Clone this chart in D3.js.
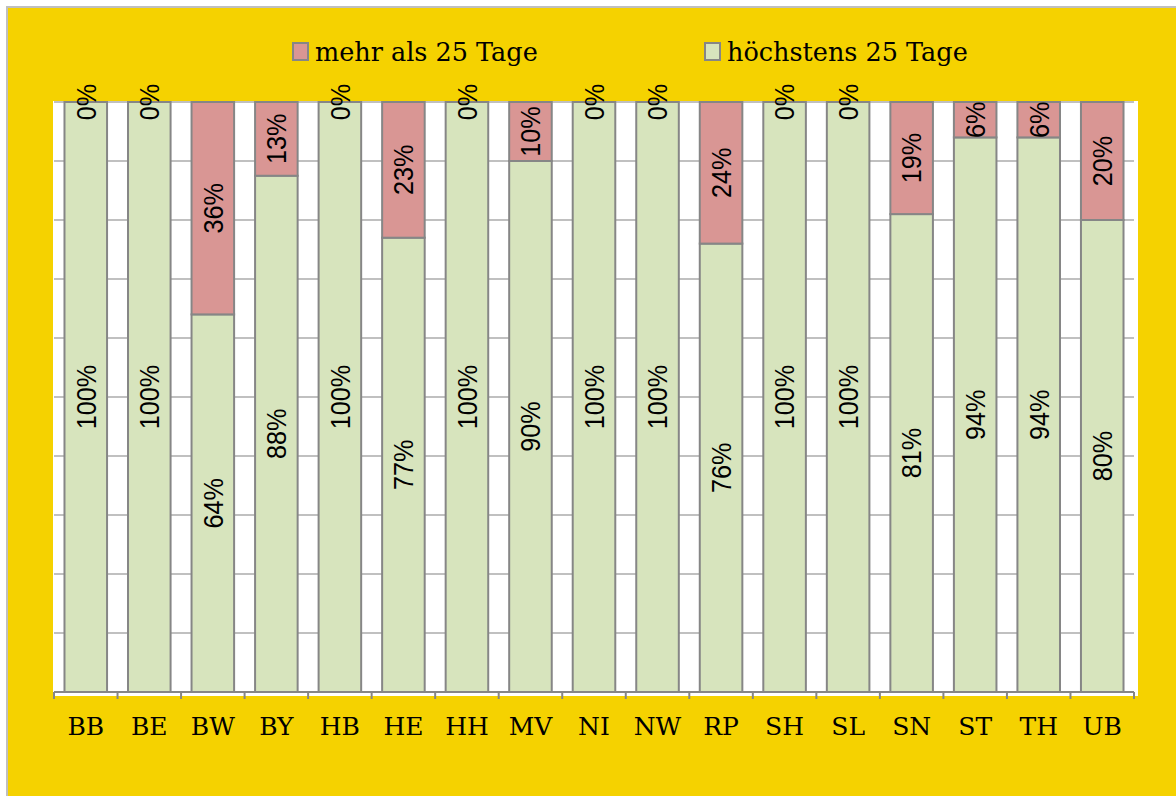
<!DOCTYPE html>
<html>
<head>
<meta charset="utf-8">
<script src="https://cdn.jsdelivr.net/npm/d3@7"></script>
<style>
  html, body { margin: 0; padding: 0; background: #ffffff; }
  svg { display: block; }
</style>
</head>
<body>
<svg id="chart" width="1176" height="796"></svg>
<script>
// ---- data ----
const categories = ["BB","BE","BW","BY","HB","HE","HH","MV","NI","NW","RP","SH","SL","SN","ST","TH","UB"];
const seriesNames = ["höchstens 25 Tage", "mehr als 25 Tage"];
const hoechstens = [100,100,64,87.5,100,77,100,90,100,100,76,100,100,81,94,94,80];
const mehr       = [0,0,36,12.5,0,23,0,10,0,0,24,0,0,19,6,6,20];
const yTicks = [0,10,20,30,40,50,60,70,80,90,100];

// ---- styles ----
const colGreen = "#D7E4BD", colPink = "#D99694";
const bg = "#F5D200";
const edge = "#868686";

const svg = d3.select("#chart");
const W = 1176, H = 796;

// background panel with border
svg.append("rect").attr("x", 7).attr("y", 7).attr("width", W + 10).attr("height", H + 10)
  .attr("fill", bg).attr("stroke", "#BFBFBF").attr("stroke-width", 2);

const plot = { left: 54, right: 1134, top: 102, bottom: 692 };
svg.append("rect").attr("x", 53).attr("y", 101).attr("width", 1138 - 53).attr("height", 696 - 101)
  .attr("fill", "#ffffff");

const x = d3.scaleBand().domain(categories).range([plot.left, plot.right])
  .paddingInner(0.33).paddingOuter(0.165);
const y = d3.scaleLinear().domain([0, 100]).range([plot.bottom, plot.top]);

// gridlines
svg.append("g").selectAll("line").data(yTicks.filter(d => d > 0)).join("line")
  .attr("x1", plot.left).attr("x2", plot.right)
  .attr("y1", d => y(d)).attr("y2", d => y(d))
  .attr("stroke", "#C0C0C0").attr("stroke-width", 2);

// stacked data
const rows = categories.map((c, i) => ({ cat: c, g: hoechstens[i], p: mehr[i] }));

const bars = svg.append("g");
bars.selectAll("rect.g").data(rows).join("rect").attr("class", "g")
  .attr("x", d => x(d.cat)).attr("width", x.bandwidth())
  .attr("y", d => y(d.g)).attr("height", d => y(0) - y(d.g))
  .attr("fill", colGreen).attr("stroke", edge).attr("stroke-width", 2);
bars.selectAll("rect.p").data(rows.filter(d => d.p > 0)).join("rect").attr("class", "p")
  .attr("x", d => x(d.cat)).attr("width", x.bandwidth())
  .attr("y", d => y(d.g + d.p)).attr("height", d => y(d.g) - y(d.g + d.p))
  .attr("fill", colPink).attr("stroke", edge).attr("stroke-width", 2);

// axis line & ticks
const axis = svg.append("g");
axis.append("line").attr("x1", plot.left).attr("x2", plot.right)
  .attr("y1", y(0)).attr("y2", y(0)).attr("stroke", edge).attr("stroke-width", 2);
const boundaries = d3.range(categories.length + 1).map(i => plot.left + i * x.step());
axis.selectAll("line.t").data(boundaries).join("line").attr("class", "t")
  .attr("x1", d => d).attr("x2", d => d).attr("y1", y(0)).attr("y2", y(0) + 7)
  .attr("stroke", edge).attr("stroke-width", 2);
axis.selectAll("text").data(categories).join("text")
  .attr("x", d => x(d) + x.bandwidth() / 2).attr("y", 735)
  .attr("text-anchor", "middle")
  .attr("font-family", "DejaVu Serif").attr("font-size", 25).attr("fill", "#000")
  .text(d => d);

// data labels
const fmt = v => Math.round(v) + "%";
const labels = svg.append("g").attr("font-family", "Liberation Sans").attr("font-size", 28).attr("fill", "#000");
rows.forEach(d => {
  const cx = x(d.cat) + x.bandwidth() / 2;
  const gy = (y(0) + y(d.g)) / 2;
  const py = (y(d.g) + y(d.g + d.p)) / 2;
  labels.append("text").attr("transform", `translate(${cx},${gy}) rotate(-90) scale(0.9,1)`)
    .attr("text-anchor", "middle").attr("dy", "0.35em").text(fmt(d.g));
  labels.append("text").attr("transform", `translate(${cx},${py}) rotate(-90) scale(0.9,1)`)
    .attr("text-anchor", "middle").attr("dy", "0.35em").text(fmt(d.p));
});

// legend
const legendItems = [
  { name: seriesNames[1], color: colPink, x: 293 },
  { name: seriesNames[0], color: colGreen, x: 705 }
];
const lg = svg.append("g");
legendItems.forEach(it => {
  lg.append("rect").attr("x", it.x).attr("y", 43).attr("width", 15).attr("height", 17)
    .attr("fill", it.color).attr("stroke", edge).attr("stroke-width", 2);
  lg.append("text").attr("x", it.x + 22).attr("y", 61)
    .attr("font-family", "DejaVu Serif").attr("font-size", 25.5).attr("fill", "#000")
    .text(it.name);
});
</script>
</body>
</html>
